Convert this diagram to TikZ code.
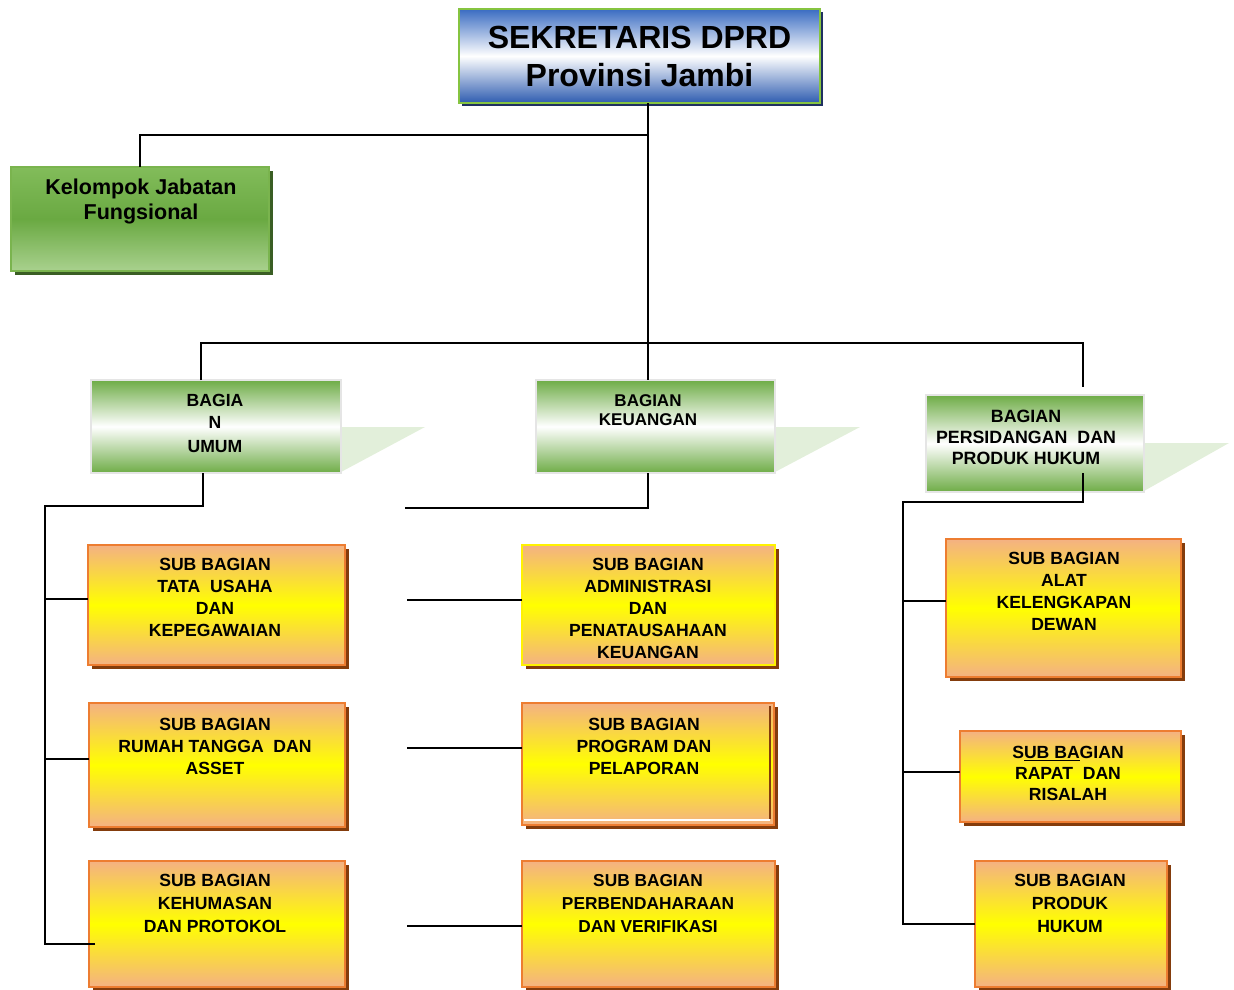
\documentclass[tikz,border=0pt]{standalone}
\usepackage{fontspec}
\setmainfont{Liberation Sans}
\usetikzlibrary{shadows,calc}
\definecolor{bluetop}{HTML}{3A6CC2}
\definecolor{bluebot}{HTML}{2E5CB0}
\definecolor{bordgreen}{HTML}{86C440}
\definecolor{navy}{HTML}{1F3060}
\definecolor{kgtop}{HTML}{82BC5A}
\definecolor{kgmid}{HTML}{6AA942}
\definecolor{kgbot}{HTML}{A9D18E}
\definecolor{kgdraw}{HTML}{7AB44E}
\definecolor{kgshadow}{HTML}{3A5E24}
\definecolor{bggreen}{HTML}{6EAC46}
\definecolor{trigreen}{HTML}{E2EFDA}
\definecolor{peach}{HTML}{F4B183}
\definecolor{orangeb}{HTML}{ED7D31}
\definecolor{brownsh}{HTML}{843C0C}
\begin{document}
\begin{tikzpicture}[x=1pt,y=-1pt,
  conn/.style={draw=black,line width=1.8pt},
  boxbase/.style={rectangle,anchor=north west,inner sep=0pt,outer sep=0pt},
  topbox/.style={boxbase,draw=bordgreen,line width=2.5pt,top color=bluetop,bottom color=bluebot,middle color=white,
    general shadow={fill=navy,shadow xshift=3pt,shadow yshift=-3pt}},
  kelbox/.style={boxbase,draw=kgdraw,line width=1.5pt,top color=kgtop,bottom color=kgbot,middle color=kgmid,
    general shadow={fill=kgshadow,shadow xshift=4pt,shadow yshift=-4pt}},
  bagbox/.style={boxbase,draw=black!10,line width=2pt,top color=bggreen,bottom color=bggreen,middle color=white},
  subbox/.style={boxbase,draw=orangeb,line width=2pt,top color=peach,bottom color=peach,middle color=yellow,
    general shadow={fill=brownsh,shadow xshift=3.5pt,shadow yshift=-3.5pt}},
  tri/.style={fill=trigreen},
  txt/.style={anchor=north,inner sep=0pt,align=center,font=\bfseries\fontsize{17.6}{22}\selectfont},
]
\useasboundingbox (0,0) rectangle (1234,990);

% top box
\node[topbox,minimum width=361pt,minimum height=94pt,align=center,
  font=\bfseries\fontsize{32}{38}\selectfont] (top) at (459,9) {SEKRETARIS DPRD\\Provinsi Jambi};

% kelompok jabatan fungsional
\node[kelbox,minimum width=258pt,minimum height=104pt] (kel) at (11,167) {};
\node[txt,font=\bfseries\fontsize{21.5}{25}\selectfont] (kelt) at (141,179) {Kelompok Jabatan\\Fungsional};

% bagian triangles
\fill[tri] (341,427) -- (425,427) -- (341,472) -- cycle;
\fill[tri] (775,427) -- (860,427) -- (775,472) -- cycle;
\fill[tri] (1144,443) -- (1229,443) -- (1144,491) -- cycle;

% bagian boxes
\node[bagbox,minimum width=250pt,minimum height=93pt] (bu) at (91,380) {};
\node[txt] (but) at (215,394) {BAGIA\\N\\[2pt]UMUM};
\node[bagbox,minimum width=239pt,minimum height=93pt] (bk) at (536,380) {};
\node[txt,font=\bfseries\fontsize{17}{19}\selectfont] (bkt) at (648,394) {BAGIAN\\KEUANGAN};
\node[bagbox,minimum width=218pt,minimum height=97pt] (bp) at (926,395) {};
\node[txt,font=\bfseries\fontsize{17.8}{21}\selectfont] (bpt) at (1026,410) {BAGIAN\\PERSIDANGAN\ \ DAN\\PRODUK HUKUM};

% sub bagian boxes: left
\node[subbox,minimum width=257pt,minimum height=120pt] (l1) at (88,545) {};
\node[txt] (l1t) at (215,558) {SUB BAGIAN\\TATA\ \ USAHA\\DAN\\KEPEGAWAIAN};
\node[subbox,minimum width=256pt,minimum height=124pt] (l2) at (89,703) {};
\node[txt] (l2t) at (215,718) {SUB BAGIAN\\RUMAH TANGGA\ \ DAN\\ASSET};
\node[subbox,minimum width=256pt,minimum height=126pt] (l3) at (89,861) {};
\node[txt,font=\bfseries\fontsize{17.6}{23}\selectfont] (l3t) at (215,874) {SUB BAGIAN\\KEHUMASAN\\DAN PROTOKOL};

% middle
\node[subbox,draw=yellow,minimum width=253pt,minimum height=120pt] (m1) at (522,545) {};
\node[txt] (m1t) at (648,558) {SUB BAGIAN\\ADMINISTRASI\\DAN\\PENATAUSAHAAN\\KEUANGAN};
\node[subbox,minimum width=252pt,minimum height=122pt] (m2) at (522,703) {};
\draw[brownsh,line width=2pt] (770,706) -- (770,819);
\draw[white,line width=1.5pt] (524,820) -- (770,820);
\node[txt] (m2t) at (644,718) {SUB BAGIAN\\PROGRAM DAN\\PELAPORAN};
\node[subbox,minimum width=253pt,minimum height=126pt] (m3) at (522,861) {};
\node[txt,font=\bfseries\fontsize{17.3}{23}\selectfont] (m3t) at (648,874) {SUB BAGIAN\\PERBENDAHARAAN\\DAN VERIFIKASI};

% right
\node[subbox,minimum width=235pt,minimum height=138pt] (r1) at (946,539) {};
\node[txt] (r1t) at (1064,552) {SUB BAGIAN\\ALAT\\KELENGKAPAN\\DEWAN};
\node[subbox,minimum width=221pt,minimum height=91pt] (r2) at (960,731) {};
\node[txt,font=\bfseries\fontsize{17.6}{21}\selectfont] (r2t) at (1068,746) {S\underline{UB BA}GIAN\\RAPAT\ \ DAN\\RISALAH};
\node[subbox,minimum width=192pt,minimum height=126pt] (r3) at (975,861) {};
\node[txt,font=\bfseries\fontsize{17.6}{23}\selectfont] (r3t) at (1070,874) {SUB BAGIAN\\PRODUK\\HUKUM};

% connectors: top level
\coordinate (bus) at (648,343);
\coordinate (jkel) at (648,135);
\coordinate (busL) at (201,343);
\coordinate (busR) at (1083,343);
\coordinate (busRend) at (1083,387);
\draw[conn] (bus |- top.south) -- (bus);
\draw[conn] (jkel) -| (kel.north);
\draw[conn] (busL |- bu.north) -- (busL) -- (busR) -- (busRend);
\draw[conn] (bus) -- (bus |- bk.north);

% left group
\coordinate (uj) at (203,506);
\coordinate (ut) at (45,945);
\draw[conn] (uj |- bu.south) -- (uj) -| (ut);
\draw[conn] ([yshift=6pt]l1.west) -- ++(-43,0);
\draw[conn] ([yshift=6pt]l2.west) -- ++(-44,0);
\draw[conn] ([xshift=6pt,yshift=-20pt]l3.west) -- ++(-50,0);

% middle group
\coordinate (kj) at (648,508);
\coordinate (kl) at (405,508);
\draw[conn] (kj |- bk.south) -- (kj) -- (kl);
\draw[conn] ([yshift=5pt]m1.west) -- ++(-115,0);
\draw[conn] ([yshift=16pt]m2.west) -- ++(-115,0);
\draw[conn] ([yshift=-2pt]m3.west) -- ++(-115,0);

% right group
\coordinate (pjt) at (1083,473);
\coordinate (pj) at (1083,502);
\coordinate (pt) at (903,925);
\draw[conn] (pjt) -- (pj) -| (pt);
\draw[conn] ([yshift=7pt]r1.west) -- ++(-43,0);
\draw[conn] ([yshift=4.5pt]r2.west) -- ++(-57,0);
\draw[conn] (r3.west) -- ++(-72,0);
\end{tikzpicture}
\end{document}
